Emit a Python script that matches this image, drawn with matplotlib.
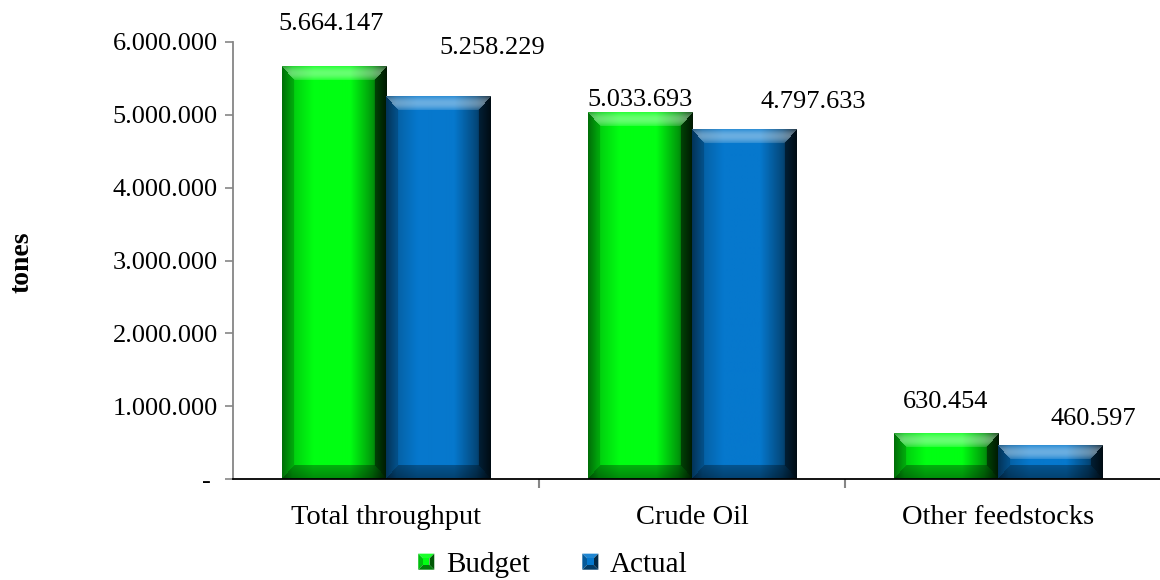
import numpy as np
import matplotlib.pyplot as plt
from matplotlib.patches import Polygon
from matplotlib.legend_handler import HandlerBase
from matplotlib.ticker import FixedLocator, FuncFormatter

categories = ['Total throughput', 'Crude Oil', 'Other feedstocks']
budget = [5664147, 5033693, 630454]
actual = [5258229, 4797633, 460597]
series_names = ['Budget', 'Actual']
y_ticks = [0, 1000000, 2000000, 3000000, 4000000, 5000000, 6000000]

# where each value label sits, in pixels from the top centre of its bar
budget_label_offsets = [(-3, 42), (0, 12), (0, 31)]
actual_label_offsets = [(54, 48), (69, 28), (43, 26)]

GREEN = np.array([0, 255, 18]) / 255
BLUE = np.array([6, 120, 205]) / 255
DPI = 100

plt.rcParams['font.family'] = ['Liberation Serif', 'DejaVu Serif']


def bevel_image(w, h, base, bx=12, by=14):
    """RGB array of a bevelled bar face, w x h pixels."""
    w = max(int(round(w)), 2)
    h = max(int(round(h)), 2)
    X, Y = np.meshgrid(np.arange(w) + 0.5, np.arange(h) + 0.5)
    u = X / w
    shade = np.interp(u, [0, 0.1, 0.3, 0.65, 0.86, 1.0],
                      [0.52, 0.8, 1.0, 1.0, 0.6, 0.18])
    rgb = base[None, None, :] * shade[..., None]

    d = np.stack([X / bx, (w - X) / bx, Y / by, (h - Y) / by])
    face = d.argmin(0)
    edge = d.min(0) < 1

    out = rgb.copy()
    top = edge & (face == 2)
    t = Y / by
    glow = (0.15 + 0.25 * np.sin(np.pi * np.clip(t, 0, 1)))[..., None]
    out[top] = (rgb + (1 - rgb) * glow)[top]
    left = edge & (face == 0)
    out[left] = rgb[left] * 0.82
    right = edge & (face == 1)
    out[right] = rgb[right] * 0.5
    bottom = edge & (face == 3)
    tb = np.clip((h - Y) / by, 0, 1)[..., None]
    out[bottom] = (rgb * (0.55 + 0.15 * tb))[bottom]
    return np.clip(out, 0, 1)


class BevelSquare(HandlerBase):
    def __init__(self, color):
        super().__init__()
        self.color = color

    def create_artists(self, legend, orig_handle, xdescent, ydescent,
                       width, height, fontsize, trans):
        s = min(width, height)
        x0 = -xdescent + (width - s) / 2
        y0 = -ydescent + (height - s) / 2
        c = self.color
        k = s * 0.3
        o = [(x0, y0), (x0 + s, y0), (x0 + s, y0 + s), (x0, y0 + s)]
        i = [(x0 + k, y0 + k), (x0 + s - k, y0 + k),
             (x0 + s - k, y0 + s - k), (x0 + k, y0 + s - k)]
        faces = [
            ([o[3], o[2], i[2], i[3]], c * 0.9 + 0.1),
            ([o[0], o[3], i[3], i[0]], c * 0.75),
            ([o[1], o[2], i[2], i[1]], c * 0.35),
            ([o[0], o[1], i[1], i[0]], c * 0.5),
            (i, c),
        ]
        arts = []
        for pts, col in faces:
            p = Polygon(pts, closed=True, facecolor=np.clip(col, 0, 1),
                        edgecolor='none', transform=trans)
            arts.append(p)
        return arts


fig = plt.figure(figsize=(11.6, 5.8), dpi=DPI)
ax = fig.add_axes([233 / 1160, 101 / 580, 937 / 1160, 437 / 580])

x = np.arange(len(categories))
bw = 0.34
ax.set_xlim(-0.5, -0.5 + 937 / 306)
ax.set_ylim(0, 6000000)

bars_b = ax.bar(x - bw / 2, budget, bw, color=GREEN, zorder=2,
                edgecolor='#a0a0a0', linewidth=0.6)
bars_a = ax.bar(x + bw / 2, actual, bw, color=BLUE, zorder=2,
                edgecolor='none')

# paint each bar with its bevelled face
for bars, base in ((bars_b, GREEN), (bars_a, BLUE)):
    for p in bars:
        x0, w, h = p.get_x(), p.get_width(), p.get_height()
        (px0, py0), (px1, py1) = ax.transData.transform([(x0, 0), (x0 + w, h)])
        img = bevel_image(px1 - px0, py1 - py0, base)
        ax.imshow(img, extent=[x0, x0 + w, 0, h], aspect='auto',
                  interpolation='bilinear', zorder=2.5)
ax.set_xlim(-0.5, -0.5 + 937 / 306)
ax.set_ylim(0, 6000000)
ax.set_aspect('auto')

for bars, vals, offs in ((bars_b, budget, budget_label_offsets),
                         (bars_a, actual, actual_label_offsets)):
    for p, v, (dx, dy) in zip(bars, vals, offs):
        ax.annotate(f'{v:,}'.replace(',', '.'),
                    (p.get_x() + p.get_width() / 2, v),
                    xytext=(dx * 72 / DPI, dy * 72 / DPI),
                    textcoords='offset points', ha='center', va='center',
                    fontsize=19, annotation_clip=False)

ax.yaxis.set_major_locator(FixedLocator(y_ticks))
ax.yaxis.set_major_formatter(FuncFormatter(
    lambda v, pos: '- ' if v == 0 else f'{int(v):,}'.replace(',', '.')))
ax.tick_params(axis='y', labelsize=19, length=6, width=1.2,
               color='#868686', pad=5)

ax.set_xticks(x)
ax.set_xticklabels(categories)
ax.tick_params(axis='x', which='major', length=0, labelsize=20.5, pad=19)
ax.xaxis.set_minor_locator(FixedLocator([0.5, 1.5]))
ax.tick_params(axis='x', which='minor', length=6.5, width=1.5,
               color='#868686')

for side in ('top', 'right'):
    ax.spines[side].set_visible(False)
ax.spines['left'].set_color('#868686')
ax.spines['left'].set_linewidth(1.3)
ax.spines['bottom'].set_color('black')
ax.spines['bottom'].set_linewidth(1.3)
ax.spines['bottom'].set_zorder(4)

fig.text(22 / 1160, 1 - 262 / 580, 'tones', rotation=90, ha='center',
         va='center', fontsize=20, fontweight='bold')

fig.legend([bars_b, bars_a], series_names, loc='center',
           bbox_to_anchor=(553 / 1160, 1 - 565 / 580), ncol=2,
           frameon=False, fontsize=21, handlelength=0.55, handleheight=0.55,
           handletextpad=0.4, columnspacing=1.8,
           handler_map={bars_b: BevelSquare(GREEN), bars_a: BevelSquare(BLUE)})

fig.savefig('out.png', dpi=DPI)
